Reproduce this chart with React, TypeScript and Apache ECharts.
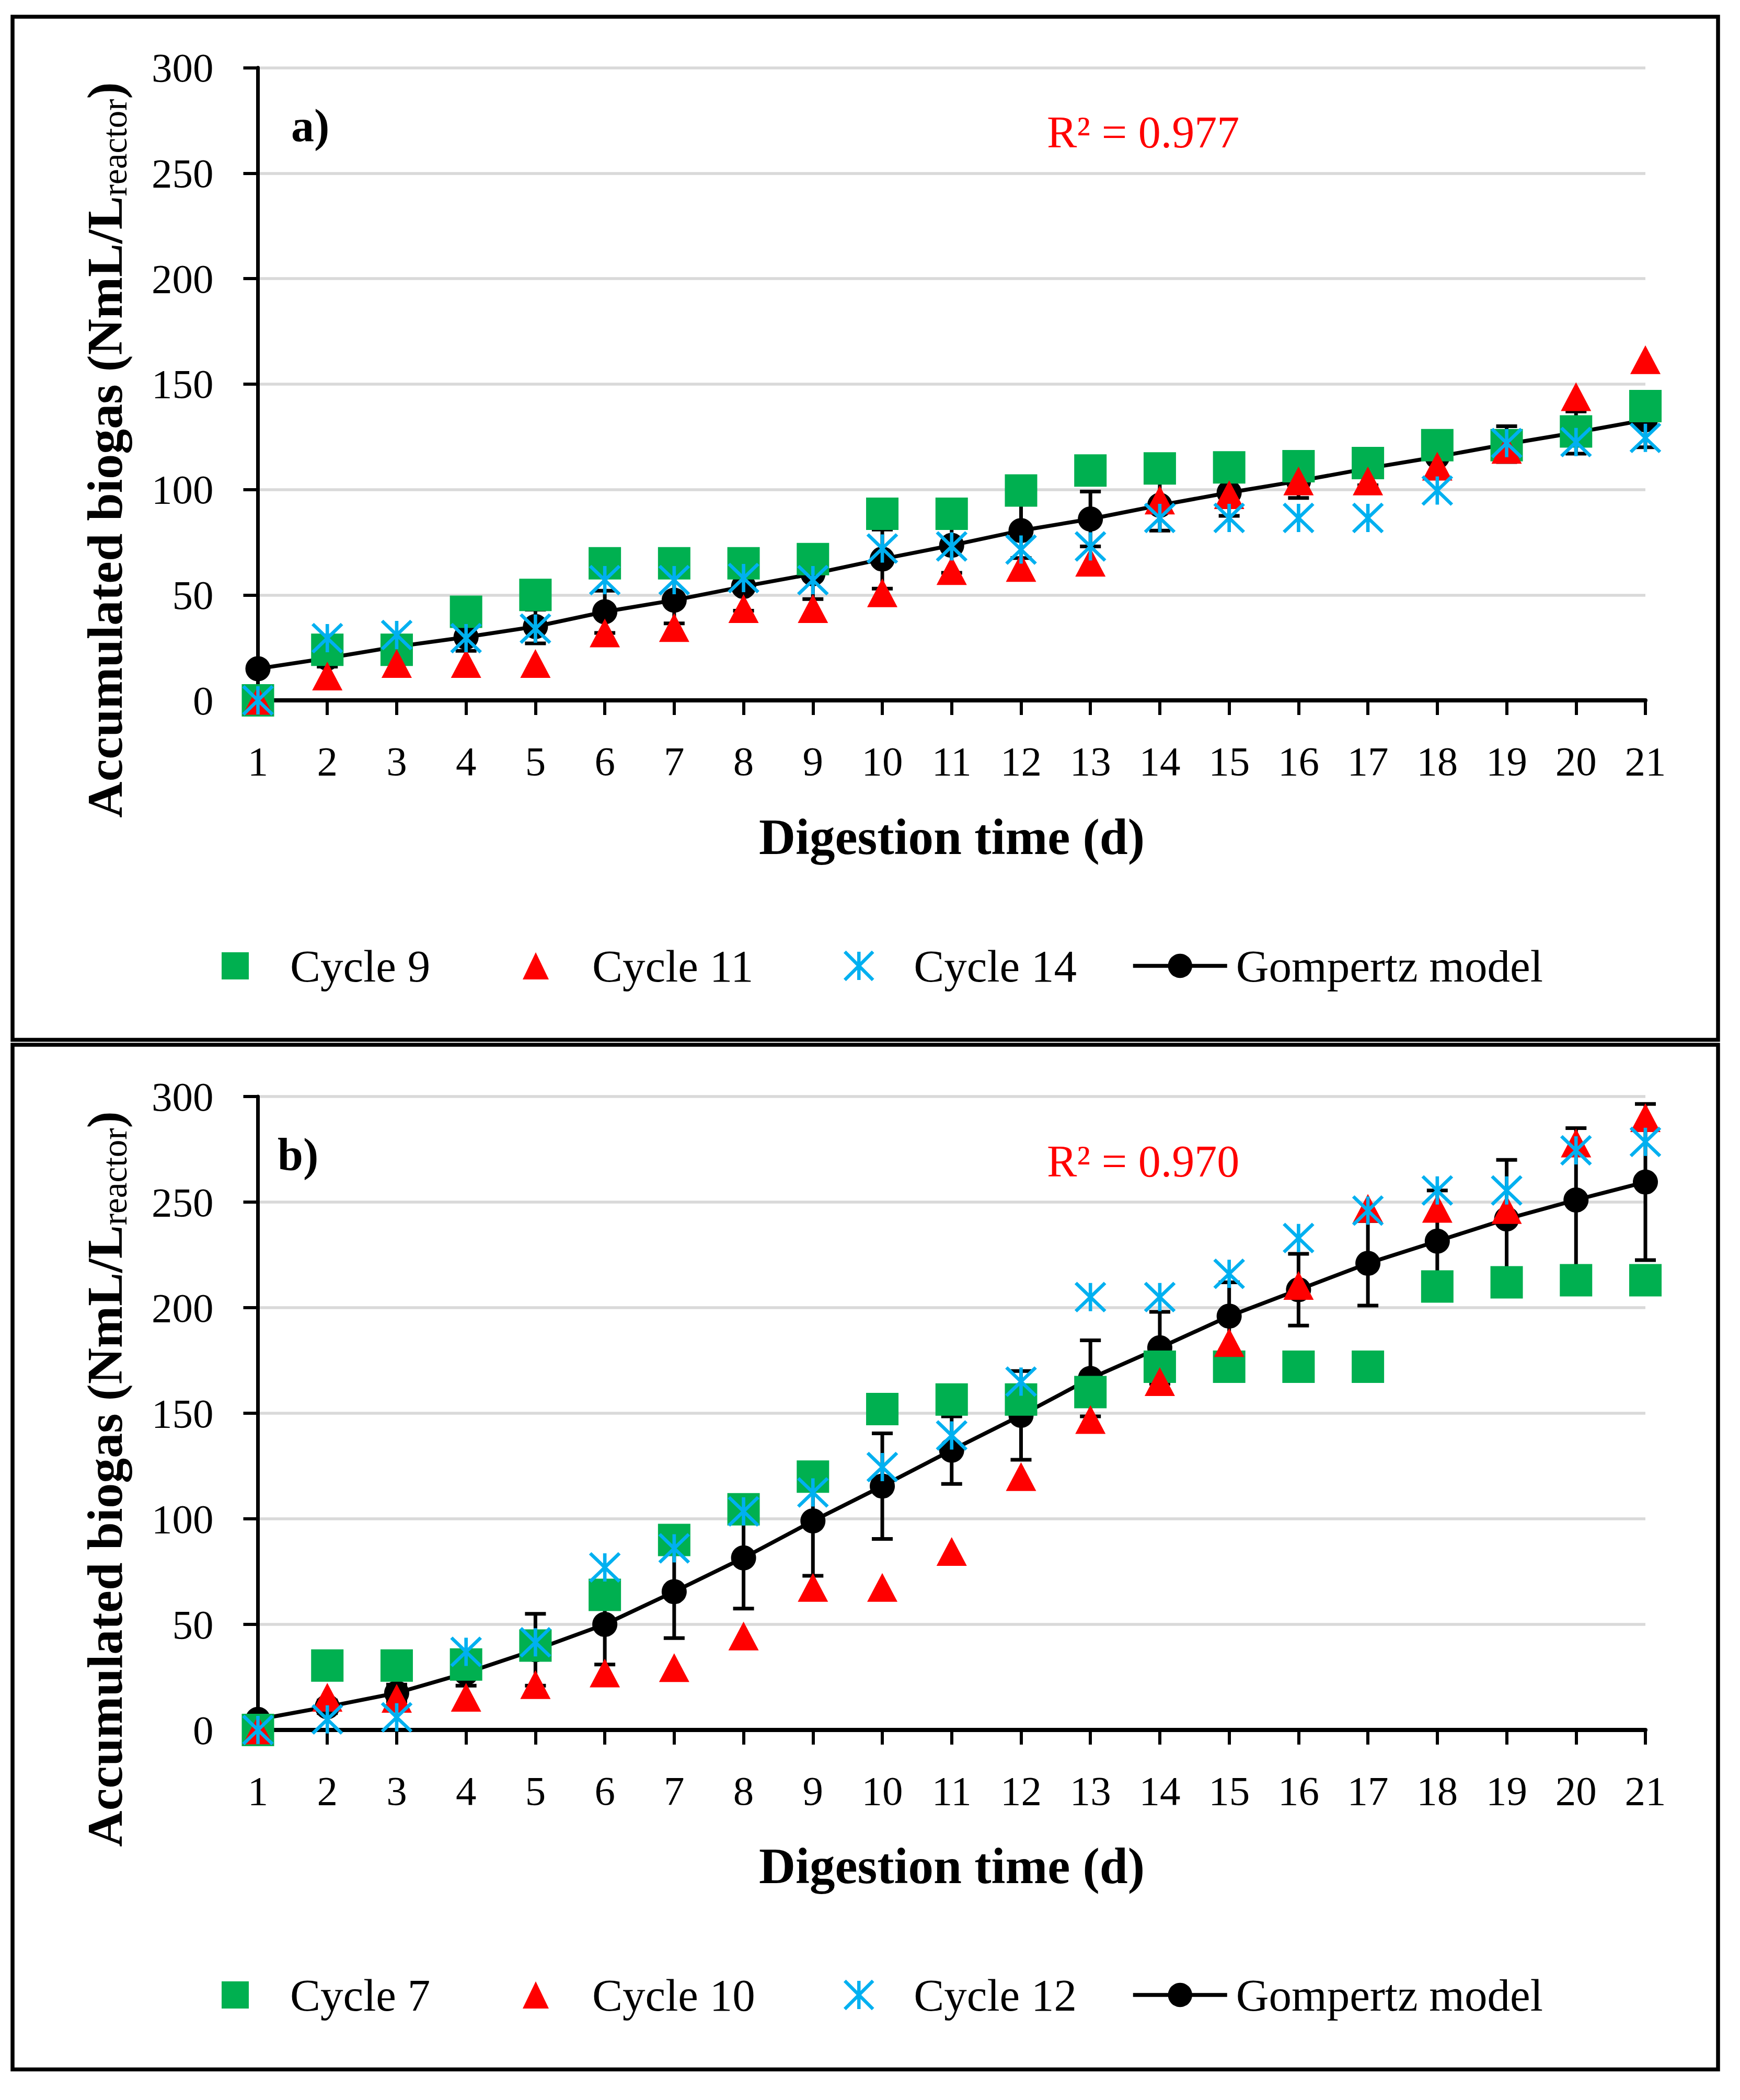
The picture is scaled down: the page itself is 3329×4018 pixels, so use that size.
import React, { useEffect, useRef } from "react";
import * as echarts from "echarts";

// ---------- data ----------
const days = [1, 2, 3, 4, 5, 6, 7, 8, 9, 10, 11, 12, 13, 14, 15, 16, 17, 18, 19, 20, 21];
const yTicks = [0, 50, 100, 150, 200, 250, 300];

// panel a)
const cycle9 = [0, 24, 24, 42, 50, 65, 65, 65, 67, 88.5, 88.5, 99.5, 109, 110, 110.5, 111, 112.5, 121, 121, 127.5, 139.5];
const cycle11 = [0, 11.5, 17.5, 17.5, 17.5, 32, 34.5, 43.5, 43.5, 51, 61.5, 63, 65.5, 95, 97.5, 104, 104, 111, 119, 144, 161.5];
const cycle14 = [0, 29.5, 31, 29.5, 34, 57, 57, 58, 57, 72, 73, 71.5, 73, 86.5, 86.5, 86.5, 86.5, 99.5, 122, 122.5, 124.5];
const gompertzA = [15, 20, 25.5, 30, 35, 42, 47.5, 54, 60, 67, 73.5, 80.5, 86, 92.5, 98.5, 104, 110, 115.5, 121.5, 127, 133];
const errA = [0, 4, 5, 6.5, 8, 10, 11, 11.5, 12, 14, 13, 13, 13, 12, 11, 8, 8, 8, 8.5, 10, 13];

// panel b)
const cycle7 = [0, 30.5, 30.5, 31, 40, 64, 90, 104.5, 120, 152, 156.5, 156.5, 160, 172, 172, 172, 172, 210, 212, 213, 213];
const cycle10 = [0, 15.5, 15, 15.5, 21.5, 27, 29.5, 44.5, 67.5, 67.5, 84.5, 120, 147, 165, 183.5, 210.5, 247, 247, 246.5, 278, 290];
const cycle12 = [0, 5, 6, 37, 41.5, 77, 86, 103.5, 112.5, 124.5, 139.5, 165, 205, 205, 216, 233, 246, 255.5, 255.5, 274.5, 278.5];
const gompertzB = [5, 11, 17.5, 27, 38, 50, 65.5, 81.5, 99, 115.5, 132.5, 149, 166.5, 181, 196, 208.5, 221, 231.5, 242, 251, 259.5];
const errB = [0, 3, 4, 6, 17, 19, 22, 24, 26, 25, 16, 21, 18, 17, 16, 17, 20, 24, 28, 34, 37];

const panelNames = [
  ["Cycle 9", "Cycle 11", "Cycle 14", "Gompertz model"],
  ["Cycle 7", "Cycle 10", "Cycle 12", "Gompertz model"],
];
const panelLabels = ["a)", "b)"];
const r2Labels = ["R\u00B2 = 0.977", "R\u00B2 = 0.970"];

// ---------- styling ----------
const FONT = "Liberation Serif";
const GREEN = "#00B050";
const RED = "#FF0000";
const CYAN = "#00B0F0";
const ASTERISK = "path://M0 0L10 10M10 0L0 10M5 0L5 10";
const OFF = 1969;

const pairs = (vals: number[]) => days.map((d, i) => [d, vals[i]]);
const triples = (vals: number[], errs: number[]) => days.map((d, i) => [d, vals[i], errs[i]]);

function errorRender(params: any, api: any) {
  const x = api.value(0);
  const y = api.value(1);
  const e = api.value(2);
  if (!e) return { type: "group", children: [] };
  const top = api.coord([x, y + e]);
  const bot = api.coord([x, y - e]);
  const hw = 20;
  const st = { stroke: "#000", lineWidth: 7 };
  return {
    type: "group",
    children: [
      { type: "line", shape: { x1: top[0], y1: top[1], x2: bot[0], y2: bot[1] }, style: st },
      { type: "line", shape: { x1: top[0] - hw, y1: top[1], x2: top[0] + hw, y2: top[1] }, style: st },
      { type: "line", shape: { x1: bot[0] - hw, y1: bot[1], x2: bot[0] + hw, y2: bot[1] }, style: st },
    ],
  };
}

function buildOption() {
  const grids = [
    { left: 493.5, top: 129.5, width: 2654.5, height: 1210.5 },
    { left: 493.5, top: 2098, width: 2654.5, height: 1212 },
  ];
  const xAxes = grids.map((_, gi) => ({
    type: "value",
    gridIndex: gi,
    min: days[0],
    max: days[days.length - 1],
    interval: 1,
    axisLine: { show: true, onZero: false, lineStyle: { color: "#000", width: 8 } },
    axisTick: { show: true, inside: false, length: 28, lineStyle: { color: "#000", width: 6 } },
    axisLabel: { fontFamily: FONT, fontSize: 79, color: "#000", margin: 77 },
    splitLine: { show: false },
  }));
  const yAxes = grids.map((_, gi) => ({
    type: "value",
    gridIndex: gi,
    min: yTicks[0],
    max: yTicks[yTicks.length - 1],
    interval: 50,
    axisLine: { show: true, lineStyle: { color: "#000", width: 7 } },
    axisTick: { show: true, inside: false, length: 28, lineStyle: { color: "#000", width: 6 } },
    axisLabel: { fontFamily: FONT, fontSize: 79, color: "#000", margin: 85 },
    splitLine: { show: true, lineStyle: { color: "#D9D9D9", width: 5.5 } },
  }));

  const panelData = [
    { sq: cycle9, tri: cycle11, ast: cycle14, g: gompertzA, e: errA },
    { sq: cycle7, tri: cycle10, ast: cycle12, g: gompertzB, e: errB },
  ];

  const series: any[] = [];
  panelData.forEach((p, gi) => {
    const names = panelNames[gi];
    series.push({
      name: "err" + gi,
      type: "custom",
      xAxisIndex: gi,
      yAxisIndex: gi,
      renderItem: errorRender,
      encode: { x: 0, y: 1 },
      data: triples(p.g, p.e),
      silent: true,
      z: 1,
    });
    series.push({
      name: names[3],
      type: "line",
      xAxisIndex: gi,
      yAxisIndex: gi,
      data: pairs(p.g),
      symbol: "circle",
      symbolSize: 48,
      showAllSymbol: true,
      itemStyle: { color: "#000", opacity: 1 },
      lineStyle: { color: "#000", width: 7.5 },
      z: 2,
    });
    series.push({
      name: names[0],
      type: "scatter",
      xAxisIndex: gi,
      yAxisIndex: gi,
      data: pairs(p.sq),
      symbol: "rect",
      symbolSize: 62,
      itemStyle: { color: GREEN, opacity: 1 },
      z: 3,
    });
    series.push({
      name: names[1],
      type: "scatter",
      xAxisIndex: gi,
      yAxisIndex: gi,
      data: pairs(p.tri),
      symbol: "triangle",
      symbolSize: [58, 55],
      itemStyle: { color: RED, opacity: 1 },
      z: 4,
    });
    series.push({
      name: names[2],
      type: "scatter",
      xAxisIndex: gi,
      yAxisIndex: gi,
      data: pairs(p.ast),
      symbol: ASTERISK,
      symbolSize: [56, 54],
      itemStyle: { color: CYAN, borderColor: CYAN, borderWidth: 6.5, opacity: 1 },
      z: 5,
    });
  });

  const legendSpecs = [
    { idx: 0, left: 424, w: 52, h: 52, pad: 74 },
    { idx: 1, left: 1000, w: 50, h: 52, pad: 78 },
    { idx: 2, left: 1613, w: 54, h: 54, pad: 73 },
    { idx: 3, left: 2164, w: 180, h: 58, pad: 12 },
  ];
  const legends: any[] = [];
  [0, 1].forEach((gi) => {
    legendSpecs.forEach((s) => {
      const lg: any = {
        show: true,
        orient: "horizontal",
        left: s.left,
        top: 1803 + gi * OFF,
        padding: 0,
        itemWidth: s.w,
        itemHeight: s.h,
        selectedMode: false,
        data: [panelNames[gi][s.idx]],
        textStyle: { fontFamily: FONT, fontSize: 87, color: "#000", lineHeight: 90, padding: [0, 0, 0, s.pad] },
      };
      if (s.idx === 2) {
        lg.itemStyle = { color: CYAN, borderColor: CYAN, borderWidth: 6.5 };
      }
      if (s.idx === 3) {
        lg.lineStyle = { color: "#000", width: 7.5 };
        lg.itemStyle = { color: "#000", borderWidth: 0 };
      }
      legends.push(lg);
    });
  });

  const graphics: any[] = [];
  [0, 1].forEach((gi) => {
    const dy = gi * OFF;
    graphics.push({
      type: "rect",
      shape: { x: 24, y: gi === 0 ? 32 : 1999, width: 3263, height: gi === 0 ? 1957.5 : 1960.5 },
      style: { fill: "none", stroke: "#000", lineWidth: 7.5 },
      z: 0,
    });
    graphics.push({
      type: "text",
      x: gi === 0 ? 557 : 531,
      y: 240 + dy,
      style: {
        text: panelLabels[gi],
        fontFamily: FONT,
        fontSize: 88,
        fontWeight: "bold",
        fill: "#000",
        align: "left",
        verticalAlign: "middle",
      },
      z: 10,
    });
    graphics.push({
      type: "text",
      x: 2003,
      y: 253 + dy,
      style: {
        text: r2Labels[gi],
        fontFamily: FONT,
        fontSize: 86,
        fill: RED,
        align: "left",
        verticalAlign: "middle",
      },
      z: 10,
    });
    graphics.push({
      type: "text",
      x: 1821,
      y: 1601 + dy,
      style: {
        text: "Digestion time (d)",
        fontFamily: FONT,
        fontSize: 97,
        fontWeight: "bold",
        fill: "#000",
        align: "center",
        verticalAlign: "middle",
      },
      z: 10,
    });
    graphics.push({
      type: "text",
      x: 200,
      y: 861 + dy,
      rotation: Math.PI / 2,
      style: {
        text: "{m|Accumulated biogas (NmL/L}{s|reactor}{m|)}",
        align: "center",
        verticalAlign: "middle",
        rich: {
          m: {
            fontFamily: FONT,
            fontSize: 96,
            fontWeight: "bold",
            fill: "#000",
            lineHeight: 104,
            verticalAlign: "middle",
          },
          s: {
            fontFamily: FONT,
            fontSize: 67,
            fontWeight: "normal",
            fill: "#000",
            lineHeight: 42,
            verticalAlign: "bottom",
          },
        },
      },
      z: 10,
    });
  });

  return {
    animation: false,
    backgroundColor: "#ffffff",
    grid: grids,
    xAxis: xAxes,
    yAxis: yAxes,
    legend: legends,
    series,
    graphic: graphics,
  };
}

export default function App() {
  const ref = useRef<HTMLDivElement>(null);
  useEffect(() => {
    if (!ref.current) return;
    const chart = echarts.init(ref.current, undefined, { renderer: "svg" });
    chart.setOption(buildOption() as any);
    return () => {
      chart.dispose();
    };
  }, []);
  return (
    <div
      ref={ref}
      style={{ position: "absolute", left: 0, top: 0, width: 3329, height: 4018, background: "#fff" }}
    />
  );
}
